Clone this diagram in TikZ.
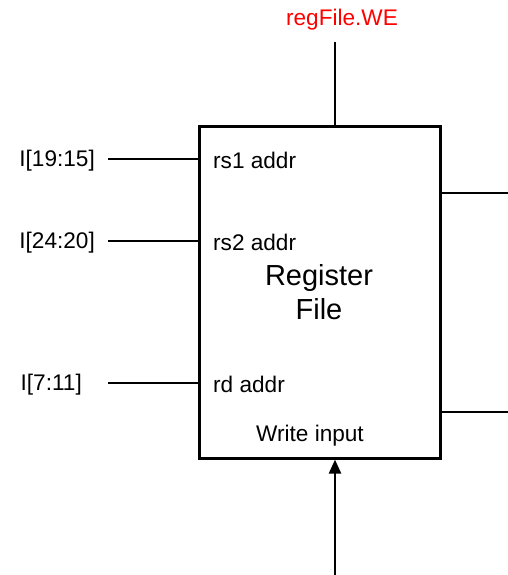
\documentclass[tikz,border=0pt]{standalone}
\usepackage{fontspec}
\setmainfont{Liberation Sans}
\usetikzlibrary{arrows.meta,shadows}
\begin{document}
\begin{tikzpicture}[x=1pt,y=-1pt,
  wire/.style={line width=2.4pt},
  lbl/.style={font=\fontsize{22.6}{26}\selectfont, inner sep=0pt},
  big/.style={font=\fontsize{29}{34}\selectfont, inner sep=0pt, align=center}]
\useasboundingbox (0,0) rectangle (508,575);
\node[draw, line width=2.6pt, minimum width=241pt, minimum height=332pt, anchor=north west,
  inner sep=0pt, drop shadow={shadow xshift=2pt, shadow yshift=-2pt, opacity=0.35}, fill=white] (rf) at (198,125) {};
\node[big] (title) at (319,292) {Register\\File};
\node[lbl, anchor=west] (rs1) at (213,160) {rs1 addr};
\node[lbl, anchor=west] (rs2) at (213,242) {rs2 addr};
\node[lbl, anchor=west] (rd) at (213,384) {rd addr};
\node[lbl] (wi) at (310,436) {Write input};
\node[lbl, text=red] (we) at (342,20) {regFile.WE};
\node[lbl, anchor=east] (i1) at (95,161) {I[19:15]};
\node[lbl, anchor=east] (i2) at (95,243) {I[24:20]};
\node[lbl, anchor=east] (i3) at (82,385) {I[7:11]};
\coordinate (weTop) at (335,42);
\coordinate (bot) at (335,575);
\coordinate (r1) at (508,193);
\coordinate (r2) at (508,412);
\coordinate (l1) at (108,159);
\coordinate (l2) at (108,241);
\coordinate (l3) at (108,383);
\draw[wire] (weTop) -- (weTop |- rf.north);
\draw[wire] (l1) -- (rf.west |- l1);
\draw[wire] (l2) -- (rf.west |- l2);
\draw[wire] (l3) -- (rf.west |- l3);
\draw[wire] (rf.east |- r1) -- (r1);
\draw[wire] (rf.east |- r2) -- (r2);
\draw[wire, -{Triangle[length=14pt,width=12pt]}] (bot) -- (bot |- rf.south);
\end{tikzpicture}
\end{document}
